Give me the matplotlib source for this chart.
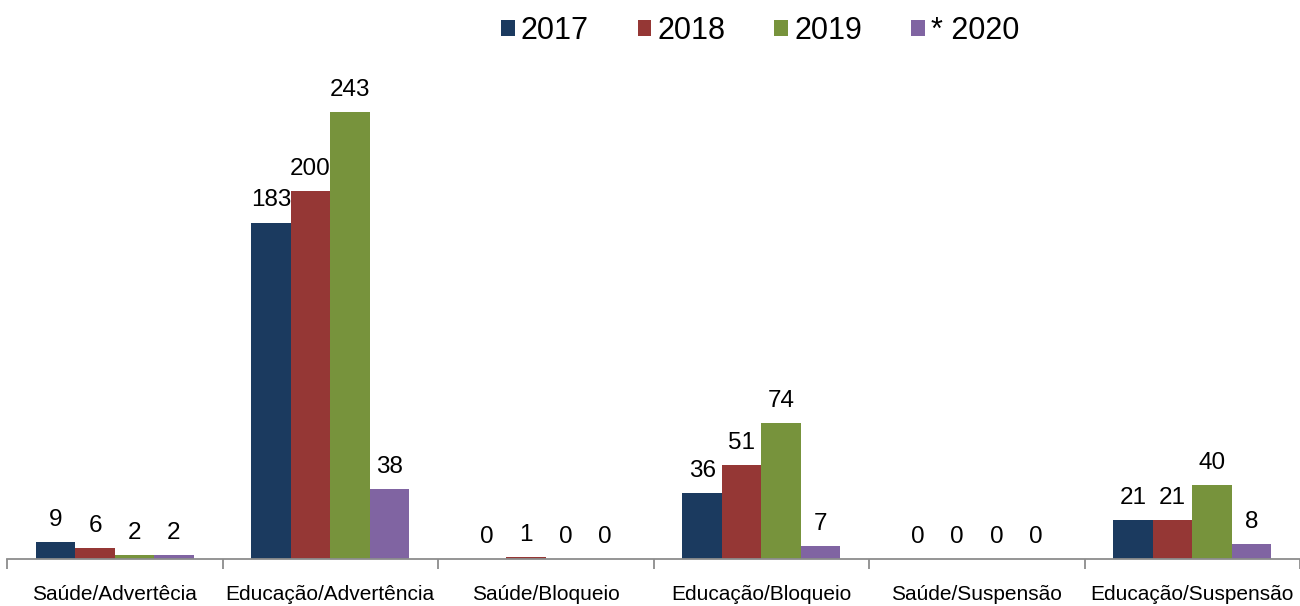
import matplotlib.pyplot as plt
import numpy as np
from matplotlib.patches import Patch

plt.rcParams["font.family"] = ["Liberation Sans", "DejaVu Sans"]

categories = [
    "Saúde/Advertêcia",
    "Educação/Advertência",
    "Saúde/Bloqueio",
    "Educação/Bloqueio",
    "Saúde/Suspensão",
    "Educação/Suspensão",
]
series_names = ["2017", "2018", "2019", "* 2020"]
v2017 = [9, 183, 0, 36, 0, 21]
v2018 = [6, 200, 1, 51, 0, 21]
v2019 = [2, 243, 0, 74, 0, 40]
v2020 = [2, 38, 0, 7, 0, 8]
values = [v2017, v2018, v2019, v2020]
colors = ["#1B3A5F", "#953735", "#77933C", "#8064A2"]

fig = plt.figure(figsize=(13, 6.06), dpi=100)
# axes: left edge at x=7px, baseline at y=559px
ax = fig.add_axes([7 / 1300, 47 / 606, 1293 / 1300, 478 / 606])

x = np.arange(len(categories))
bw = 0.183
for i, (name, vals, c) in enumerate(zip(series_names, values, colors)):
    pos = x + (i - 1.5) * bw
    ax.bar(pos, vals, width=bw, color=c, edgecolor="none", label=name)
    for px, v in zip(pos, vals):
        ax.annotate(str(v), (px, v), xytext=(0, 8), textcoords="offset points",
                    ha="center", va="bottom", fontsize=17.5)

ax.set_xlim(-0.5, len(categories) - 0.5)
ax.set_ylim(0, 260)

for s in ["top", "right", "left"]:
    ax.spines[s].set_visible(False)
ax.spines["bottom"].set_color("#8c8c8c")
ax.spines["bottom"].set_linewidth(1.3)
ax.set_yticks([])

ax.set_xticks(x)
ax.set_xticklabels(categories, fontsize=15)
ax.tick_params(axis="x", which="major", length=0, pad=19)
ax.set_xticks(np.arange(len(categories) + 1) - 0.5, minor=True)
ax.tick_params(axis="x", which="minor", length=7, width=1.3, color="#8c8c8c")

handles = [Patch(facecolor=c, edgecolor="none") for c in colors]
fig.legend(handles, series_names, loc="center", bbox_to_anchor=(760 / 1300, 1 - 31 / 606),
           ncol=4, frameon=False, fontsize=22, handlelength=0.45, handleheight=0.45,
           handletextpad=0.2, columnspacing=1.6, borderaxespad=0)

fig.savefig("out.png", dpi=100)
